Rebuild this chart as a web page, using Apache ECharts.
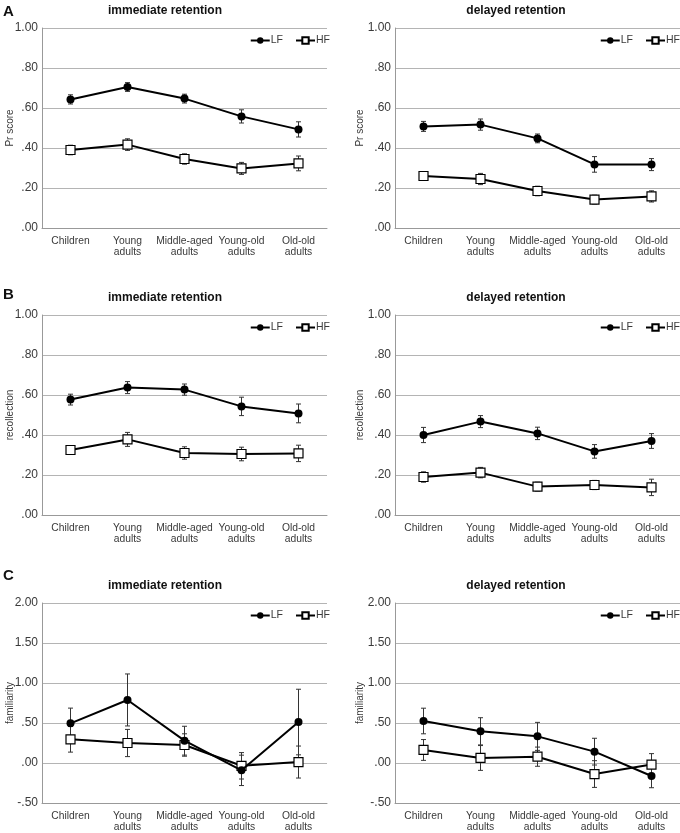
<!DOCTYPE html>
<html>
<head>
<meta charset="utf-8">
<script src="https://cdn.jsdelivr.net/npm/echarts@6/dist/echarts.min.js"></script>
<style>
  html, body { margin: 0; padding: 0; background: #fff; }
  #chart { width: 680px; height: 833px; }
</style>
</head>
<body>
<div id="chart"></div>
<script>
const categories = ["Children", "Young\nadults", "Middle-aged\nadults", "Young-old\nadults", "Old-old\nadults"];

// A: Pr score
const prImmLF = [0.643, 0.705, 0.647, 0.558, 0.493];
const prImmLFErr = [0.023, 0.022, 0.022, 0.033, 0.038];
const prImmHF = [0.390, 0.417, 0.345, 0.298, 0.323];
const prImmHFErr = [0.024, 0.029, 0.026, 0.030, 0.037];
const prDelLF = [0.508, 0.517, 0.448, 0.318, 0.317];
const prDelLFErr = [0.025, 0.028, 0.022, 0.039, 0.030];
const prDelHF = [0.260, 0.245, 0.185, 0.142, 0.158];
const prDelHFErr = [0.020, 0.028, 0.024, 0.022, 0.028];

// B: recollection
const recImmLF = [0.577, 0.637, 0.627, 0.543, 0.508];
const recImmLFErr = [0.027, 0.030, 0.028, 0.046, 0.047];
const recImmHF = [0.325, 0.378, 0.310, 0.305, 0.308];
const recImmHFErr = [0.022, 0.035, 0.031, 0.034, 0.041];
const recDelLF = [0.400, 0.467, 0.408, 0.318, 0.370];
const recDelLFErr = [0.038, 0.030, 0.031, 0.034, 0.037];
const recDelHF = [0.190, 0.212, 0.142, 0.150, 0.138];
const recDelHFErr = [0.026, 0.026, 0.022, 0.023, 0.041];

// C: familiarity
const famImmLF = [0.496, 0.788, 0.279, -0.092, 0.512];
const famImmLFErr = [0.19, 0.325, 0.18, 0.19, 0.41];
const famImmHF = [0.296, 0.250, 0.225, -0.035, 0.012];
const famImmHFErr = [0.16, 0.17, 0.14, 0.165, 0.20];
const famDelLF = [0.525, 0.396, 0.333, 0.142, -0.163];
const famDelLFErr = [0.16, 0.17, 0.175, 0.167, 0.146];
const famDelHF = [0.163, 0.063, 0.079, -0.138, -0.020];
const famDelHFErr = [0.13, 0.155, 0.12, 0.167, 0.137];

const panelLetters = ["A", "B", "C"];
const panelTitles = ["immediate retention", "delayed retention"];
const rowNames = ["Pr score", "recollection", "familiarity"];
const rowRanges = [[0, 1, 0.2], [0, 1, 0.2], [-0.5, 2, 0.5]];
const rowSeries = [
  [[prImmLF, prImmLFErr, prImmHF, prImmHFErr], [prDelLF, prDelLFErr, prDelHF, prDelHFErr]],
  [[recImmLF, recImmLFErr, recImmHF, recImmHFErr], [recDelLF, recDelLFErr, recDelHF, recDelHFErr]],
  [[famImmLF, famImmLFErr, famImmHF, famImmHFErr], [famDelLF, famDelLFErr, famDelHF, famDelHFErr]],
];

const FONT = "'Liberation Sans', Arial, sans-serif";
const TEXT = "#3a3a3a";
const GRID_LINE = "#b4b4b4";
const rowTops = [28, 315, 603];
const letterTops = [4, 287, 568];
const colLefts = [42, 395];
const titleCenters = [165, 516];
const legendRights = [350, 0];
const nameGaps = [27, 30];
const PLOT_W = 285;
const PLOT_H = 200;

function formatTick(value) {
  return value.toFixed(2).replace(/^(-?)0\./, "$1.");
}

function errorData(values, errs) {
  return values.map((v, i) => [i, v - errs[i], v + errs[i]]);
}

function renderErrorBar(params, api) {
  const x = api.value(0);
  const top = api.coord([x, api.value(2)]);
  const bottom = api.coord([x, api.value(1)]);
  const cap = 2.5;
  const style = { stroke: "#333", lineWidth: 1 };
  return {
    type: "group",
    children: [
      { type: "line", shape: { x1: top[0], y1: top[1], x2: bottom[0], y2: bottom[1] }, style },
      { type: "line", shape: { x1: top[0] - cap, y1: top[1], x2: top[0] + cap, y2: top[1] }, style },
      { type: "line", shape: { x1: bottom[0] - cap, y1: bottom[1], x2: bottom[0] + cap, y2: bottom[1] }, style },
    ],
  };
}

const grids = [];
const xAxes = [];
const yAxes = [];
const legends = [];
const titles = [];
const series = [];

rowTops.forEach((top, row) => {
  titles.push({
    text: panelLetters[row],
    left: 3,
    top: letterTops[row],
    padding: 0,
    textStyle: { fontFamily: FONT, fontSize: 15, fontWeight: "bold", color: "#111" },
  });
  colLefts.forEach((left, col) => {
    const idx = grids.length;
    const [min, max, interval] = rowRanges[row];
    grids.push({ left, top, width: PLOT_W, height: PLOT_H });
    titles.push({
      text: panelTitles[col],
      left: titleCenters[col],
      top: top - 23,
      padding: 0,
      textAlign: "center",
      textStyle: { fontFamily: FONT, fontSize: 12, fontWeight: "bold", color: "#111" },
    });
    xAxes.push({
      type: "category",
      gridIndex: idx,
      data: categories,
      axisLine: { onZero: false, lineStyle: { color: "#999" } },
      axisTick: { show: false },
      axisLabel: { interval: 0, color: TEXT, fontFamily: FONT, fontSize: 10.3, lineHeight: 11.5, margin: 7 },
    });
    yAxes.push({
      type: "value",
      gridIndex: idx,
      min,
      max,
      interval,
      name: rowNames[row],
      nameLocation: "middle",
      nameGap: nameGaps[col],
      nameMoveOverlap: false,
      nameTextStyle: { color: TEXT, fontFamily: FONT, fontSize: 10 },
      axisLine: { show: true, lineStyle: { color: "#999" } },
      axisTick: { show: false },
      axisLabel: { color: TEXT, fontFamily: FONT, fontSize: 12, margin: 4, formatter: formatTick },
      splitLine: { lineStyle: { color: GRID_LINE, width: 1 } },
    });
    legends.push({
      data: ["LF", "HF"],
      right: legendRights[col],
      top: top + 7,
      padding: 0,
      itemWidth: 19,
      itemHeight: 8,
      itemGap: 12,
      textStyle: { color: TEXT, fontFamily: FONT, fontSize: 10.5, padding: [0, 0, 0, -4] },
      selectedMode: false,
    });

    const [lf, lfErr, hf, hfErr] = rowSeries[row][col];
    series.push({
      name: "LF err",
      type: "custom",
      xAxisIndex: idx,
      yAxisIndex: idx,
      renderItem: renderErrorBar,
      data: errorData(lf, lfErr),
      z: 1,
    });
    series.push({
      name: "HF err",
      type: "custom",
      xAxisIndex: idx,
      yAxisIndex: idx,
      renderItem: renderErrorBar,
      data: errorData(hf, hfErr),
      z: 1,
    });
    series.push({
      name: "HF",
      type: "line",
      xAxisIndex: idx,
      yAxisIndex: idx,
      data: hf,
      symbol: "rect",
      symbolSize: 9,
      itemStyle: { color: "#fff", borderColor: "#000", borderWidth: 1.2 },
      lineStyle: { color: "#000", width: 2 },
      z: 3,
    });
    series.push({
      name: "LF",
      type: "line",
      xAxisIndex: idx,
      yAxisIndex: idx,
      data: lf,
      symbol: "circle",
      symbolSize: 8,
      itemStyle: { color: "#000" },
      lineStyle: { color: "#000", width: 2 },
      z: 4,
    });
  });
});

const chart = echarts.init(document.getElementById("chart"));
chart.setOption({
  animation: false,
  backgroundColor: "#fff",
  title: titles,
  grid: grids,
  xAxis: xAxes,
  yAxis: yAxes,
  legend: legends,
  series,
});
</script>
</body>
</html>
